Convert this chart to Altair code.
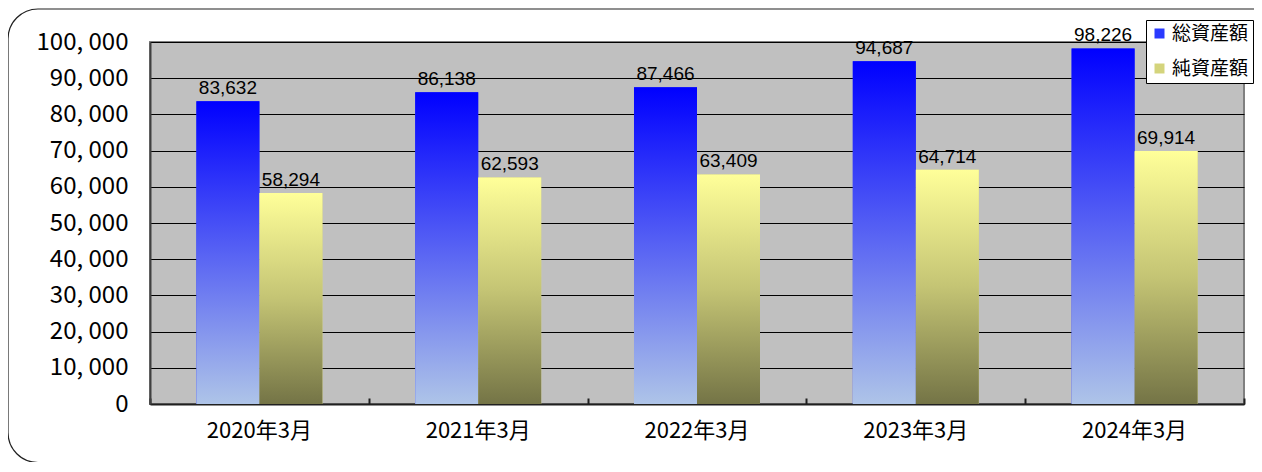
import altair as alt
import pandas as pd

categories = ["2020年3月", "2021年3月", "2022年3月", "2023年3月", "2024年3月"]
series = ["総資産額", "純資産額"]
total_assets = [83632, 86138, 87466, 94687, 98226]
net_assets = [58294, 62593, 63409, 64714, 69914]
y_ticks = [0, 10000, 20000, 30000, 40000, 50000, 60000, 70000, 80000, 90000, 100000]

rows = []
for c, t, n in zip(categories, total_assets, net_assets):
    rows.append({"cat": c, "series": series[0], "value": t})
    rows.append({"cat": c, "series": series[1], "value": n})
df = pd.DataFrame(rows)

W, H = 1094, 362
JP = "Noto Sans CJK JP"

xscale = alt.Scale(domain=categories, paddingInner=0, paddingOuter=0)
xoscale = alt.Scale(domain=series, paddingInner=0, paddingOuter=0.7365)
yscale = alt.Scale(domain=[0, 100000], nice=False)

yaxis = alt.Axis(values=y_ticks, ticks=False, labelPadding=22,
                 labelExpr="replace(format(datum.value, ','), ',', ', ')",
                 labelFont=JP, labelFontSize=24, labelColor="black",
                 domainColor="#404040", domainWidth=2,
                 grid=True, gridColor="black", gridWidth=1, gridOpacity=1)

blue_grad = alt.Gradient(
    gradient="linear", x1=0, y1=0, x2=0, y2=1,
    stops=[alt.GradientStop(color="#0000FF", offset=0),
           alt.GradientStop(color="#AEC4E8", offset=1)],
)
yellow_grad = alt.Gradient(
    gradient="linear", x1=0, y1=0, x2=0, y2=1,
    stops=[alt.GradientStop(color="#FFFF99", offset=0),
           alt.GradientStop(color="#C4C474", offset=0.5),
           alt.GradientStop(color="#747446", offset=1)],
)

base = alt.Chart(df)

legend_bars = base.mark_bar().encode(
    x=alt.X("cat:N", sort=categories, scale=xscale, title=None,
            axis=alt.Axis(orient="bottom", ticks=False, labelAngle=0,
                          labelFont=JP, labelFontSize=22, labelColor="black",
                          labelPadding=16, domainColor="#202020", domainWidth=2,
                          grid=False)),
    xOffset=alt.XOffset("series:N", sort=series, scale=xoscale),
    y=alt.Y("value:Q", scale=yscale, title=None, axis=yaxis),
    color=alt.Color("series:N", sort=series,
                    scale=alt.Scale(domain=series, range=["#2a3aff", "#d4d47c"]),
                    legend=alt.Legend(title=None, orient="none", legendX=996, legendY=-22,
                                      symbolType="square", symbolSize=100,
                                      symbolStrokeWidth=0,
                                      labelFont=JP, labelFontSize=19, labelColor="black",
                                      labelOffset=3, rowPadding=15,
                                      fillColor="white", strokeColor="black",
                                      padding=4)),
)

def grad_layer(name, grad, axis):
    return base.transform_filter(alt.datum.series == name).mark_bar(fill=grad).encode(
        x=alt.X("cat:N", sort=categories, scale=xscale, title=None, axis=axis),
        xOffset=alt.XOffset("series:N", sort=series, scale=xoscale),
        y=alt.Y("value:Q", scale=yscale, title=None, axis=yaxis),
    )

tick_axis = alt.Axis(orient="top", offset=-H, labels=False, domain=False, grid=False,
                     ticks=True, tickBand="extent", tickSize=6, tickColor="#202020",
                     tickWidth=2)

blue_bars = grad_layer(series[0], blue_grad, tick_axis)
yellow_bars = grad_layer(series[1], yellow_grad, None)

labels = base.mark_text(baseline="bottom", dy=-3, font="Liberation Sans",
                        fontSize=19, color="black").encode(
    x=alt.X("cat:N", sort=categories, scale=xscale, title=None, axis=None),
    xOffset=alt.XOffset("series:N", sort=series, scale=xoscale),
    y=alt.Y("value:Q", scale=yscale, title=None, axis=yaxis),
    text=alt.Text("value:Q", format=","),
)

frame = alt.Chart(alt.Data(values=[{"a": 1}])).mark_rect(
    filled=False, stroke="#202020", strokeWidth=1.2, cornerRadius=30, clip=False
).encode(
    x=alt.value(-142), x2=alt.value(1140), y=alt.value(-33), y2=alt.value(420.5)
)

chart = alt.layer(frame, legend_bars, blue_bars, yellow_bars, labels).resolve_axis(
    x="independent"
).properties(
    width=W, height=H, background="white",
    autosize=alt.AutoSizeParams(type="none"),
    padding={"left": 142, "top": 34, "right": 10, "bottom": 58},
).configure_view(
    fill="#C0C0C0", stroke="#808080", strokeWidth=2
)

chart.save("out.html", embed_options={"renderer": "svg", "actions": False})
